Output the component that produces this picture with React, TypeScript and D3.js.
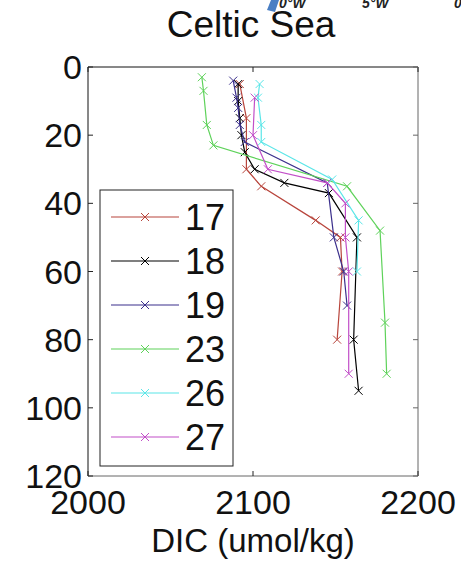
import React from 'react';
import * as d3 from 'd3';

// station series: DIC (umol/kg) by depth (m)
const stations = ['17', '18', '19', '23', '26', '27'];
const colors = ['#b8453c', '#000000', '#3b2f8c', '#5ed25a', '#5ae6e8', '#c24fc8'];

const depth17 = [5, 15, 30, 35, 45, 50, 60, 80];
const dic17 = [2092, 2096, 2096, 2105, 2138, 2153, 2154, 2151];
const depth18 = [5, 10, 15, 20, 25, 30, 34, 37, 50, 80, 95];
const dic18 = [2091, 2091, 2092, 2093, 2095, 2101, 2119, 2146, 2163, 2161, 2164];
const depth19 = [4, 9, 12, 17, 22, 34, 50, 60, 70];
const dic19 = [2088, 2090, 2091, 2092, 2095, 2145, 2149, 2155, 2157];
const depth23 = [3, 7, 17, 23, 35, 48, 75, 90];
const dic23 = [2069, 2070, 2072, 2076, 2157, 2177, 2180, 2181];
const depth26 = [5, 9, 17, 22, 33, 45, 60];
const dic26 = [2104, 2103, 2105, 2105, 2148, 2164, 2163];
const depth27 = [9, 20, 30, 34, 40, 50, 60, 90];
const dic27 = [2101, 2100, 2109, 2145, 2156, 2156, 2158, 2158];

const depths = [depth17, depth18, depth19, depth23, depth26, depth27];
const dics = [dic17, dic18, dic19, dic23, dic26, dic27];

const xTicks = [2000, 2100, 2200];
const yTicks = [0, 20, 40, 60, 80, 100, 120];

const font = '"Liberation Sans", Arial, sans-serif';

const Cross = ({ cx, cy, color }: { cx: number; cy: number; color: string }) => {
  const s = 4;
  return (
    <path
      d={`M${cx - s},${cy - s}L${cx + s},${cy + s}M${cx - s},${cy + s}L${cx + s},${cy - s}`}
      stroke={color}
      strokeWidth={1}
      fill="none"
    />
  );
};

export default function App() {
  const W = 461;
  const H = 561;
  const left = 88, right = 418, top = 67, bottom = 476;
  const x = d3.scaleLinear().domain([2000, 2200]).range([left, right]);
  const y = d3.scaleLinear().domain([0, 120]).range([top, bottom]);
  const line = d3.line<[number, number]>().x((d) => x(d[0])).y((d) => y(d[1]));

  const legX = 100, legY = 190, legW = 133, legH = 276;
  const rowH = 44;

  return (
    <svg width={W} height={H} style={{ position: 'absolute', left: 0, top: 0, background: '#fff' }}>
      <rect width={W} height={H} fill="#fff" />
      {/* map fragment at top edge */}
      <path d="M267,10L271,0L279,0L275,12Z" fill="#4a7fc4" />
      <g fontFamily={font} fontStyle="italic" fontWeight="bold" fontSize={14} fill="#222">
        <text x={279} y={8}>0°W</text>
        <text x={362} y={8}>5°W</text>
        <text x={454} y={8}>0</text>
      </g>
      <text x={251} y={37} textAnchor="middle" fontFamily={font} fontSize={37} fill="#111">
        Celtic Sea
      </text>

      {/* plot box */}
      <rect x={left} y={top} width={right - left} height={bottom - top} fill="#fff" stroke="none" />
      <path d={`M${left},${bottom}V${top}H${right}`} fill="none" stroke="#111" />
      <path d={`M${left},${bottom}H${right}V${top}`} fill="none" stroke="#666" />
      {xTicks.map((t) => (
        <g key={'x' + t}>
          <line x1={x(t)} x2={x(t)} y1={top} y2={top + 5} stroke="#222" />
          <line x1={x(t)} x2={x(t)} y1={bottom} y2={bottom - 5} stroke="#222" />
          <text x={x(t)} y={514} textAnchor="middle" fontFamily={font} fontSize={34} fill="#111">
            {t}
          </text>
        </g>
      ))}
      {yTicks.map((t) => (
        <g key={'y' + t}>
          <line x1={left} x2={left + 5} y1={y(t)} y2={y(t)} stroke="#222" />
          <line x1={right} x2={right - 5} y1={y(t)} y2={y(t)} stroke="#666" />
          <text x={82} y={y(t) + 12} textAnchor="end" fontFamily={font} fontSize={34} fill="#111">
            {t}
          </text>
        </g>
      ))}

      {/* series */}
      {stations.map((s, i) => {
        const pts = dics[i].map((v, j) => [v, depths[i][j]] as [number, number]);
        return (
          <g key={s}>
            <path d={line(pts) || ''} fill="none" stroke={colors[i]} strokeWidth={1.2} />
            {pts.map((p, j) => (
              <Cross key={j} cx={x(p[0])} cy={y(p[1])} color={colors[i]} />
            ))}
          </g>
        );
      })}

      {/* legend */}
      <rect x={legX} y={legY} width={legW} height={legH} fill="#fff" stroke="#222" strokeWidth={1} />
      {stations.map((s, i) => {
        const cy = legY + 27 + i * rowH;
        return (
          <g key={'l' + s}>
            <line x1={111} x2={179} y1={cy} y2={cy} stroke={colors[i]} strokeWidth={1.2} />
            <Cross cx={145} cy={cy} color={colors[i]} />
            <text x={185} y={cy + 13} fontFamily={font} fontSize={36} fill="#111">
              {s}
            </text>
          </g>
        );
      })}

      <text x={253} y={552} textAnchor="middle" fontFamily={font} fontSize={33} fill="#111">
        DIC (umol/kg)
      </text>
    </svg>
  );
}
